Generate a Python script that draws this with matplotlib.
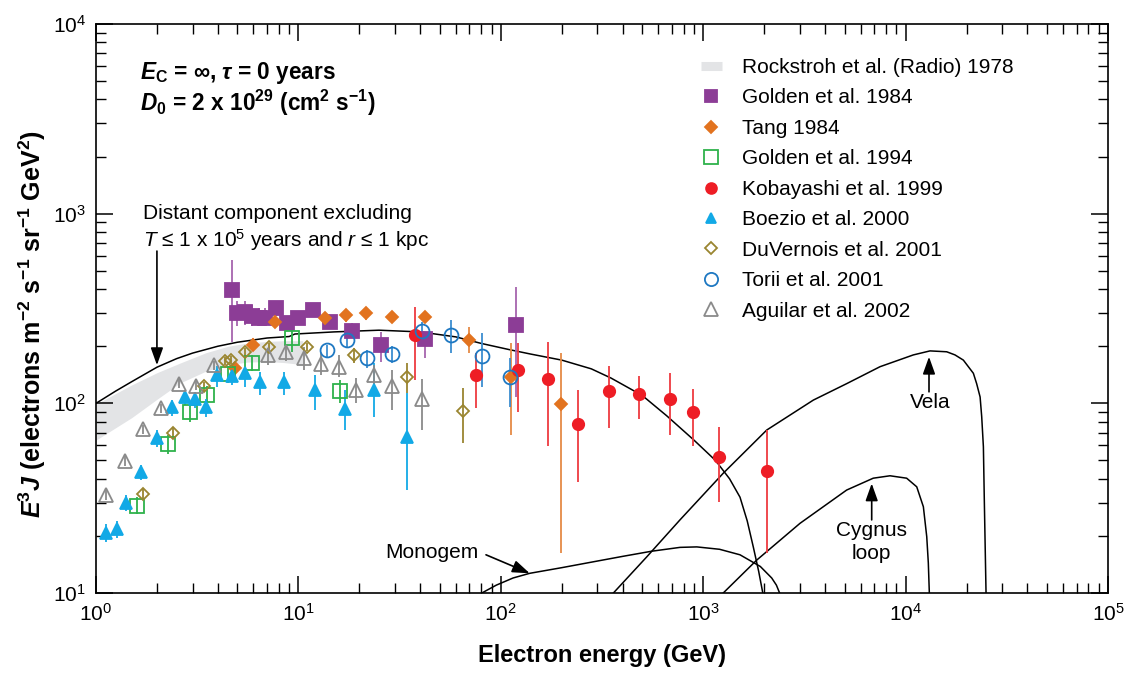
import matplotlib
matplotlib.use("Agg")
import matplotlib.pyplot as plt
from matplotlib.lines import Line2D
import numpy as np

plt.rcParams['font.family'] = ['Liberation Sans', 'DejaVu Sans']
plt.rcParams['mathtext.fontset'] = 'custom'
plt.rcParams['mathtext.rm'] = 'Liberation Sans'
plt.rcParams['mathtext.it'] = 'Liberation Sans:italic'
plt.rcParams['mathtext.bf'] = 'Liberation Sans:bold'
plt.rcParams['mathtext.bfit'] = 'Liberation Sans:bold:italic'

# ---------------- data (energy in GeV, E^3 J) ----------------
# Rockstroh et al. (Radio) 1978 band
band_E = [1.0, 1.5, 2.0, 2.6, 3.5, 4.5, 5.6, 7.0, 8.5, 10.5]
band_hi = [99, 125, 145, 163, 185, 200, 208, 212, 214, 214]
band_lo = [64, 84, 105, 128, 148, 160, 165, 166, 164, 160]

# Model curves
distant_E = [1.0, 1.25, 1.5, 2.0, 2.5, 3.0, 4.0, 5.0, 7.0, 9.0, 9.6, 15, 25, 40, 60, 80,
             110, 140, 200, 280, 350, 500, 660, 900, 1150, 1350, 1520, 1650, 1770, 1880, 1970]
distant_J = [100, 116, 130, 155, 172, 184, 200, 210, 221, 225, 232, 238, 243, 238, 224, 207,
             192, 182, 169, 152, 136, 110, 86, 64, 50, 40, 32, 24, 17.4, 13, 10]

vela_E = [360, 526, 768, 1256, 2060, 3500, 5115, 7475, 10920, 13200, 15960, 17540, 19290,
          21620, 22440, 23340, 23770, 24230, 24470, 24970]
vela_J = [10, 15.5, 24.3, 42.8, 72.3, 104, 127, 156, 180, 189, 187, 180, 169,
          144, 127, 108, 85, 59, 32, 10]

cygnus_E = [1256, 1837, 3008, 5115, 6920, 8375, 10120, 11350, 12240, 12720, 12950, 13100]
cygnus_J = [10, 14.9, 23.3, 34.9, 40.3, 41.5, 40.3, 36.3, 28.5, 19.8, 14.4, 10]

monogem_E = [80.6, 95, 115, 139, 200, 286, 400, 555, 768, 930, 1205, 1520, 1915, 2180,
             2300, 2385]
monogem_J = [10, 11.0, 12.0, 12.7, 13.6, 14.6, 15.6, 16.6, 17.4, 17.5, 17.0, 15.9, 13.8,
             12.0, 11.0, 10]

# Measurements: value with lower / upper ends of the error bars
golden84_E = [4.70, 4.97, 5.45, 5.90, 6.39, 6.84, 7.75, 8.78, 9.95, 11.8, 14.3, 18.4, 25.6, 42.2, 119]
golden84_J = [395, 299, 303, 289, 282, 282, 318, 265, 282, 310, 268, 241, 203, 218, 259]
golden84_lo = [210, 255, 260, 255, 255, 255, 290, 240, 260, 290, 252, 220, 165, 173, 108]
golden84_hi = [570, 345, 345, 330, 320, 320, 345, 290, 305, 330, 285, 265, 238, 235, 410]

tang_E = [4.86, 5.99, 7.66, 13.5, 17.2, 21.6, 28.9, 42.2, 69.9, 112, 198]
tang_J = [153, 203, 269, 281, 292, 298, 286, 286, 217, 137, 99]
tang_lo = [140, 188, 250, 262, 270, 275, 265, 268, 184, 68, 16.3]
tang_hi = [165, 220, 288, 300, 315, 320, 305, 305, 252, 208, 184]

golden94_E = [1.59, 2.27, 2.91, 3.55, 4.50, 5.88, 9.35, 16.1]
golden94_J = [28.7, 60.7, 89.9, 111, 142, 163, 222, 116]
golden94_lo = [26, 54, 80, 100, 128, 148, 186, 100]
golden94_hi = [32, 68, 100, 123, 158, 180, 243, 133]

kobayashi_E = [37.7, 75.4, 121, 172, 242, 344, 483, 685, 887, 1202, 2060]
kobayashi_J = [229, 141, 149, 135, 77.8, 116, 112, 106, 89.7, 52.1, 44.2]
kobayashi_lo = [132, 94.4, 90.3, 59.6, 38.6, 73.8, 82.6, 68.1, 59.8, 30.1, 16.2]
kobayashi_hi = [323, 184, 208, 211, 117, 157, 139, 145, 119, 75.3, 72.3]

boezio_E = [1.12, 1.265, 1.41, 1.66, 2.01, 2.37, 2.75, 3.10, 3.49, 3.97, 4.71, 5.45, 6.46,
            8.51, 12.1, 17.0, 23.6, 34.3]
boezio_J = [20.8, 21.7, 30.0, 43.4, 65.5, 95.1, 108, 105, 96.0, 141, 140, 144, 130, 130,
            117, 92.9, 117, 66.7]
boezio_lo = [18.6, 19.5, 27.0, 39.5, 59, 86, 98, 95, 85, 122, 125, 122, 111, 111, 92, 72, 85, 35]
boezio_hi = [23.0, 24.0, 33.0, 47.5, 72, 104, 118, 115, 105, 158, 156, 156, 147, 147, 141,
             117, 163, 113]

duvernois_E = [1.71, 2.39, 3.40, 4.34, 4.64, 5.42, 7.13, 11.0, 18.8, 34.5, 65.3]
duvernois_J = [33.3, 69.5, 123, 168, 170, 187, 199, 198, 180, 137, 91.4]
duvernois_lo = [31.5, 65, 116, 160, 162, 178, 190, 189, 163, 113, 61.9]
duvernois_hi = [35.5, 74, 130, 176, 178, 196, 208, 207, 195, 163, 120]

torii_E = [13.8, 17.3, 21.9, 28.9, 40.6, 56.5, 80.5, 111]
torii_J = [191, 216, 173, 182, 240, 229, 178, 138]
torii_lo = [176, 195, 153, 163, 216, 184, 122, 96]
torii_hi = [203, 239, 191, 201, 269, 275, 234, 173]

aguilar_E = [1.12, 1.39, 1.70, 2.09, 2.57, 3.13, 3.85, 7.10, 8.64, 10.6, 13.0, 15.9, 19.3,
             23.6, 29.1, 40.6]
aguilar_J = [32.9, 49.8, 73.0, 94.2, 127, 124, 159, 180, 187, 173, 161, 156, 117, 141, 123, 106]
aguilar_lo = [31, 47, 69, 89, 120, 117, 150, 159, 168, 150, 141, 138, 100, 122, 92.3, 72.3]
aguilar_hi = [35, 53, 77, 99, 134, 131, 168, 195, 203, 199, 184, 180, 136, 159, 150, 135]

# ---------------- figure ----------------
fig = plt.figure(figsize=(11.25, 6.75), dpi=100)
ax = fig.add_axes([96 / 1125, 1 - 593 / 675, 1012 / 1125, 569 / 675])
ax.set_xscale('log')
ax.set_yscale('log')
ax.set_xlim(1, 1e5)
ax.set_ylim(10, 1e4)

band_color = '#E3E4E6'
ax.fill_between(band_E, band_lo, band_hi, color=band_color, lw=0, zorder=1)

for xs, ys in [(distant_E, distant_J), (vela_E, vela_J), (cygnus_E, cygnus_J),
               (monogem_E, monogem_J)]:
    ax.plot(xs, ys, color='black', lw=1.1, zorder=2, solid_joinstyle='round')


def draw_series(E, J, lo, hi, marker, ms, color, ecolor, filled=True, mew=1.3, z=3):
    J = np.asarray(J, float)
    yerr = [J - np.asarray(lo, float), np.asarray(hi, float) - J]
    ax.errorbar(E, J, yerr=yerr, fmt=marker, ms=ms,
                mfc=color if filled else 'none', mec=color, mew=mew,
                ecolor=ecolor, elinewidth=1.3, capsize=0, zorder=z)


series = [
    ('Golden et al. 1984', golden84_E, golden84_J, golden84_lo, golden84_hi,
     's', 9.5, '#8C3D96', '#A665AE', True),
    ('Tang 1984', tang_E, tang_J, tang_lo, tang_hi,
     'D', 6.2, '#E2731F', '#E58A45', True),
    ('Golden et al. 1994', golden94_E, golden94_J, golden94_lo, golden94_hi,
     's', 10, '#2EB24B', '#2EB24B', False),
    ('Kobayashi et al. 1999', kobayashi_E, kobayashi_J, kobayashi_lo, kobayashi_hi,
     'o', 8.2, '#EE1D25', '#EE3A40', True),
    ('Boezio et al. 2000', boezio_E, boezio_J, boezio_lo, boezio_hi,
     '^', 8.0, '#12A9E6', '#12A9E6', True),
    ('DuVernois et al. 2001', duvernois_E, duvernois_J, duvernois_lo, duvernois_hi,
     'D', 6.6, '#9A8530', '#9A8530', False),
    ('Torii et al. 2001', torii_E, torii_J, torii_lo, torii_hi,
     'o', 10, '#1E78C2', '#3B8DD0', False),
    ('Aguilar et al. 2002', aguilar_E, aguilar_J, aguilar_lo, aguilar_hi,
     '^', 10.5, '#8A8A8A', '#8A8A8A', False),
]

handles = [Line2D([], [], color=band_color, lw=6.5, solid_capstyle='butt')]
labels = ['Rockstroh et al. (Radio) 1978']
for (lab, E, J, lo, hi, mk, ms, col, ecol, filled) in series:
    draw_series(E, J, lo, hi, mk, ms, col, ecol, filled)
    handles.append(Line2D([], [], ls='none', marker=mk, ms=ms * 0.95,
                          mfc=col if filled else 'none', mec=col, mew=1.3))
    labels.append(lab)

ax.legend(handles, labels, loc='upper left',
          bbox_to_anchor=((701 - 96) / 1012, (593 - 58) / 569),
          frameon=False, borderaxespad=0, borderpad=0, fontsize=15,
          handlelength=1.0, handletextpad=0.95, labelspacing=0.55)

# ---------------- axes styling ----------------
for s in ax.spines.values():
    s.set_linewidth(1.2)
ax.tick_params(which='both', direction='in', top=True, right=True)
ax.tick_params(which='major', length=12, width=1.1, labelsize=15, pad=7)
ax.tick_params(which='minor', length=7, width=1.0)

ax.set_xlabel('Electron energy (GeV)', fontsize=17, fontweight='bold', labelpad=14)
ax.set_ylabel(r'$\mathbfit{E}^{\mathbf{3}}\mathbfit{J}$ (electrons m$^{\mathbf{-2}}$ '
              r's$^{\mathbf{-1}}$ sr$^{\mathbf{-1}}$ GeV$^{\mathbf{2}}$)',
              fontsize=18, fontweight='bold')
ax.yaxis.set_label_coords(-0.047, 0.473)

# ---------------- annotations ----------------
ax.text(0.0435, 0.914, r'$\mathbfit{E}_{\mathbf{C}}$ = ∞, $\mathbfit{\tau}$ = 0 years',
        transform=ax.transAxes, fontsize=16.3, fontweight='bold', va='center', ha='left')
ax.text(0.0435, 0.861, r'$\mathbfit{D}_{\mathbf{0}}$ = 2 x 10$^{\mathbf{29}}$ '
        r'(cm$^{\mathbf{2}}$ s$^{\mathbf{-1}}$)',
        transform=ax.transAxes, fontsize=16.3, fontweight='bold', va='center', ha='left')

ax.text(1.71, 996, 'Distant component excluding', fontsize=15, va='center', ha='left')
ax.text(1.71, 726, r'$T$ ≤ 1 x 10$^{5}$ years and $r$ ≤ 1 kpc', fontsize=15,
        va='center', ha='left')

arrow = dict(arrowstyle='-|>,head_length=0.7,head_width=0.25', color='black', lw=1.2,
             shrinkA=0, shrinkB=0, mutation_scale=15)
ax.annotate('', xy=(2.0, 159), xytext=(2.0, 635), arrowprops=arrow)
ax.annotate('', xy=(139, 12.7), xytext=(84.5, 15.9), arrowprops=arrow)
ax.text(45.7, 16.3, 'Monogem', fontsize=15, va='center', ha='center')
ax.annotate('', xy=(13050, 176), xytext=(13050, 115), arrowprops=arrow)
ax.text(13200, 101.6, 'Vela', fontsize=15, va='center', ha='center')
ax.annotate('', xy=(6800, 37.8), xytext=(6800, 24.3), arrowprops=arrow)
ax.text(6800, 18.6, 'Cygnus\nloop', fontsize=15, va='center', ha='center',
        multialignment='center', linespacing=1.3)

fig.savefig('out.png', dpi=100)
